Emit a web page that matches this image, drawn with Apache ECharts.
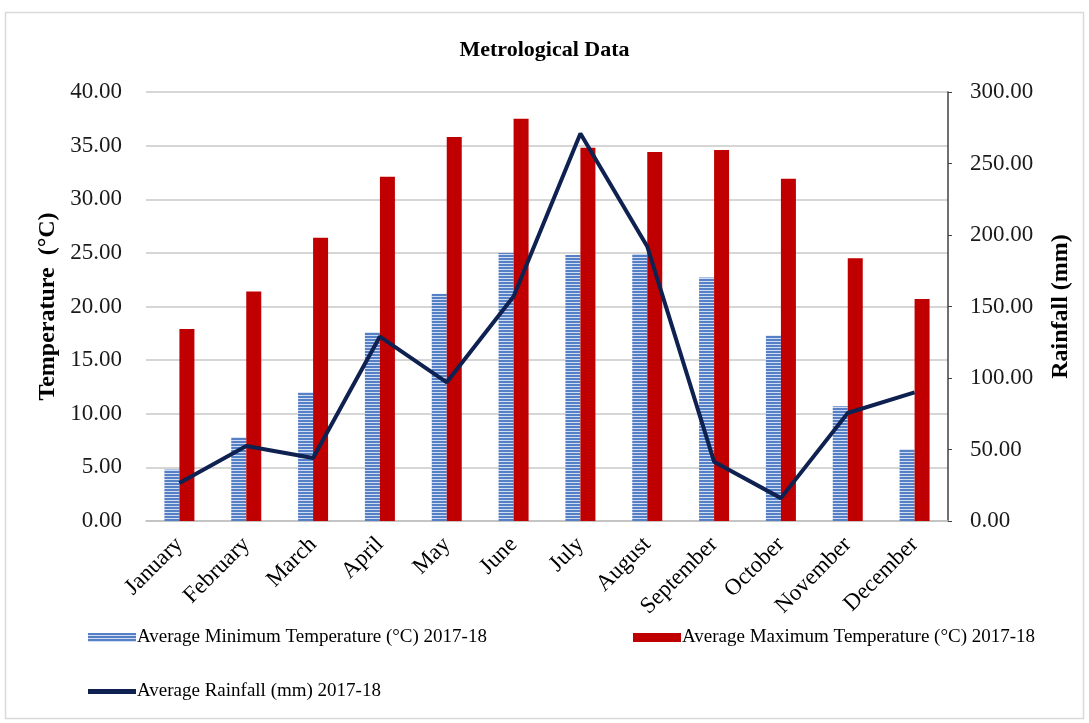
<!DOCTYPE html>
<html>
<head>
<meta charset="utf-8">
<style>
  html, body { margin: 0; padding: 0; background: #ffffff; }
  #chart { width: 1089px; height: 723px; }
</style>
<script src="https://cdn.jsdelivr.net/npm/echarts@6/dist/echarts.min.js"></script>
</head>
<body>
<div id="chart"></div>
<script>
// Monthly meteorological records, 2017-18
const months = ['January', 'February', 'March', 'April', 'May', 'June',
  'July', 'August', 'September', 'October', 'November', 'December'];
const minTemp = [4.8, 7.8, 12.0, 17.6, 21.2, 25.0, 24.8, 24.9, 22.7, 17.3, 10.7, 6.7];
const maxTemp = [17.9, 21.4, 26.4, 32.1, 35.8, 37.5, 34.8, 34.4, 34.6, 31.9, 24.5, 20.7];
const rainfall = [26.6, 52.5, 44, 129, 97, 157, 271, 192, 41.5, 16, 75.5, 90];

const nameMin = 'Average Minimum Temperature (°C) 2017-18';
const nameMax = 'Average Maximum Temperature (°C) 2017-18';
const nameRain = 'Average Rainfall (mm) 2017-18';

// Horizontal-stripe fill for the minimum temperature bars
function stripePattern() {
  const c = document.createElement('canvas');
  c.width = 4; c.height = 3;
  const ctx = c.getContext('2d');
  ctx.fillStyle = '#5580c6';
  ctx.fillRect(0, 0, 4, 2);
  ctx.fillStyle = '#cfdcf1';
  ctx.fillRect(0, 2, 4, 1);
  return { image: c, repeat: 'repeat' };
}

const serif = '"Liberation Serif", "Times New Roman", serif';
const chart = echarts.init(document.getElementById('chart'), null, { renderer: 'canvas' });

const legendBase = {
  itemWidth: 48,
  itemHeight: 9,
  itemGap: 4,
  icon: 'rect',
  textStyle: { fontFamily: serif, fontSize: 19, color: '#000000', padding: [0, 0, 0, -4] }
};

chart.setOption({
  animation: false,
  backgroundColor: '#ffffff',
  graphic: [{
    type: 'rect',
    shape: { x: 5.5, y: 12.5, width: 1078, height: 706 },
    style: { fill: 'none', stroke: '#d9d9d9', lineWidth: 1.5 },
    silent: true
  }],
  title: {
    text: 'Metrological Data',
    left: 'center',
    top: 34,
    textStyle: { fontFamily: serif, fontSize: 22, fontWeight: 'bold', color: '#000000' }
  },
  legend: [
    Object.assign({}, legendBase, { data: [nameMin], left: 83, top: 623 }),
    Object.assign({}, legendBase, { data: [nameMax], left: 628, top: 623 }),
    Object.assign({}, legendBase, { data: [nameRain], left: 83, top: 677, itemHeight: 5 })
  ],
  grid: { left: 146, right: 141, top: 92, bottom: 202, containLabel: false },
  xAxis: {
    type: 'category',
    data: months,
    axisLine: { lineStyle: { color: '#bfbfbf', width: 1.5 } },
    axisTick: { show: false },
    axisLabel: {
      rotate: 45,
      interval: 0,
      margin: 20,
      fontFamily: serif,
      fontSize: 23,
      color: '#000000'
    }
  },
  yAxis: [{
    type: 'value',
    min: 0, max: 40, interval: 5,
    name: 'Temperature  (°C)',
    nameLocation: 'middle',
    nameRotate: 90,
    nameGap: 79,
    nameTextStyle: { fontFamily: serif, fontSize: 24, fontWeight: 'bold', color: '#000000' },
    axisLine: { show: false },
    axisTick: { show: false },
    splitLine: { lineStyle: { color: '#c9c9c9', width: 1.5 } },
    axisLabel: {
      margin: 24,
      fontFamily: serif, fontSize: 23, color: '#1a1a1a',
      formatter: v => v.toFixed(2)
    }
  }, {
    type: 'value',
    min: 0, max: 300, interval: 50,
    name: 'Rainfall (mm)',
    nameLocation: 'middle',
    nameRotate: 90,
    nameGap: 101,
    nameTextStyle: { fontFamily: serif, fontSize: 24, fontWeight: 'bold', color: '#000000' },
    axisLine: { show: true, lineStyle: { color: '#404040', width: 1.5 } },
    axisTick: { show: true, inside: false, length: 4, lineStyle: { color: '#404040' } },
    splitLine: { show: false },
    axisLabel: {
      margin: 22,
      fontFamily: serif, fontSize: 23, color: '#1a1a1a',
      formatter: v => v.toFixed(2)
    }
  }],
  series: [{
    name: nameMin,
    type: 'bar',
    yAxisIndex: 0,
    data: minTemp,
    barWidth: 15,
    barGap: '0%',
    itemStyle: { color: stripePattern() }
  }, {
    name: nameMax,
    type: 'bar',
    yAxisIndex: 0,
    data: maxTemp,
    barWidth: 15,
    barGap: '0%',
    itemStyle: { color: '#c00000' }
  }, {
    name: nameRain,
    type: 'line',
    yAxisIndex: 1,
    data: rainfall,
    symbol: 'none',
    z: 5,
    lineStyle: { color: '#0e2150', width: 4 },
    itemStyle: { color: '#0e2150' }
  }]
});
</script>
</body>
</html>
